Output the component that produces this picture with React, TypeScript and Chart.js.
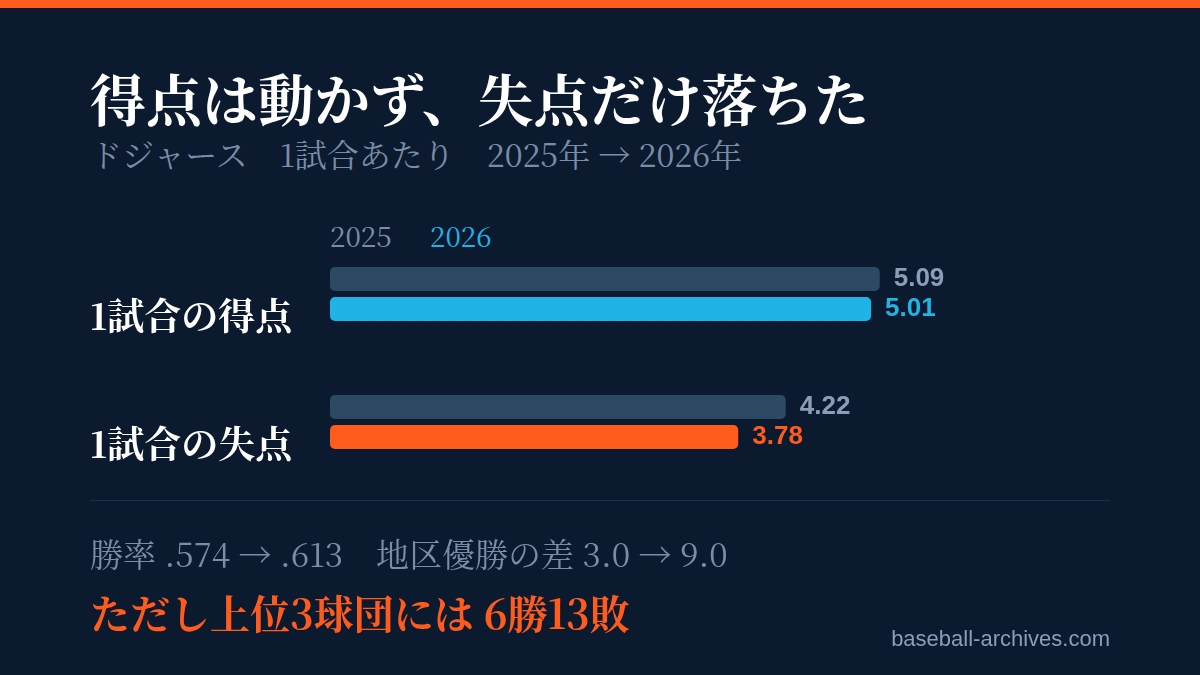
import React, { useEffect, useRef } from "react";
import { Chart, registerables } from "chart.js";

Chart.register(...registerables);

const categories = ["1試合の得点", "1試合の失点"];
const seriesNames = ["2025", "2026"];
const values2025 = [5.09, 4.22];
const values2026 = [5.01, 3.78];
const colors2025 = ["#2c4a63", "#2c4a63"];
const colors2026 = ["#1fb4e5", "#ff5b1c"];
const labelColors2025 = ["#8d9db8", "#8d9db8"];
const labelColors2026 = ["#1fb4e5", "#ff5b1c"];

const BG = "#0b1a2f";
const ORANGE = "#ff5b1c";
const MUTED = "#7b8ca6";
const SERIF = "'Noto Serif CJK JP', 'Noto Sans CJK JP', serif";

// 棒の右側に値を描く
const valueLabels = {
  id: "valueLabels",
  afterDatasetsDraw(chart: Chart) {
    const ctx = chart.ctx;
    ctx.save();
    ctx.font = "bold 26px 'Liberation Sans', Arial, sans-serif";
    ctx.textBaseline = "middle";
    ctx.textAlign = "left";
    chart.data.datasets.forEach((ds: any, di: number) => {
      const meta = chart.getDatasetMeta(di);
      meta.data.forEach((bar: any, i: number) => {
        ctx.fillStyle = ds.labelColors[i];
        ctx.fillText((ds.data[i] as number).toFixed(2), bar.x + 14, bar.y);
      });
    });
    ctx.restore();
  },
};

const RunsChart: React.FC = () => {
  const chartRef = useRef<HTMLCanvasElement>(null);
  const chartInstance = useRef<Chart | null>(null);

  useEffect(() => {
    const ctx = chartRef.current?.getContext("2d");
    if (!ctx) return;
    if (chartInstance.current) chartInstance.current.destroy();

    chartInstance.current = new Chart(ctx, {
      type: "bar",
      data: {
        labels: categories,
        datasets: [
          {
            label: seriesNames[0],
            data: values2025,
            backgroundColor: colors2025,
            labelColors: labelColors2025,
            borderRadius: 5,
            borderSkipped: false,
            categoryPercentage: 0.46875,
            barPercentage: 0.8,
          } as any,
          {
            label: seriesNames[1],
            data: values2026,
            backgroundColor: colors2026,
            labelColors: labelColors2026,
            borderRadius: 5,
            borderSkipped: false,
            categoryPercentage: 0.46875,
            barPercentage: 0.8,
          } as any,
        ],
      },
      options: {
        indexAxis: "y",
        responsive: false,
        animation: false,
        layout: { padding: { left: 90, right: 222, top: 230, bottom: 189 } },
        plugins: {
          legend: { display: false },
          tooltip: { enabled: false },
        },
        scales: {
          x: { display: false, min: 0, max: 6 },
          y: {
            grid: { display: false },
            border: { display: false },
            afterFit: (scale: any) => {
              scale.width = 240;
            },
            ticks: {
              crossAlign: "far",
              labelOffset: 22,
              color: "#ffffff",
              font: { family: SERIF, size: 37, weight: "bold" },
            },
          },
        },
      },
      plugins: [valueLabels],
    });

    return () => {
      if (chartInstance.current) {
        chartInstance.current.destroy();
        chartInstance.current = null;
      }
    };
  }, []);

  return (
    <canvas
      ref={chartRef}
      width={1200}
      height={675}
      style={{ position: "absolute", left: 0, top: 0, width: 1200, height: 675 }}
    />
  );
};

const text = (
  top: number,
  size: number,
  color: string,
  extra: React.CSSProperties = {}
): React.CSSProperties => ({
  position: "absolute",
  left: 90,
  top,
  fontSize: size,
  lineHeight: 1,
  color,
  fontFamily: SERIF,
  whiteSpace: "pre",
  margin: 0,
  ...extra,
});

export default function App() {
  return (
    <div
      style={{
        position: "fixed",
        left: 0,
        top: 0,
        width: 1200,
        height: 675,
        background: BG,
        overflow: "hidden",
      }}
    >
      <div style={{ position: "absolute", left: 0, top: 0, width: 1200, height: 8, background: ORANGE }} />
      <div style={text(69, 56, "#ffffff", { fontWeight: 700 })}>得点は動かず、失点だけ落ちた</div>
      <div style={text(137, 32, MUTED)}>ドジャース　1試合あたり　2025年 → 2026年</div>
      <div style={text(221, 28, MUTED, { left: 330 })}>{seriesNames[0]}</div>
      <div style={text(221, 28, colors2026[0], { left: 430 })}>{seriesNames[1]}</div>
      <RunsChart />
      <div style={{ position: "absolute", left: 90, top: 500, width: 1020, height: 1, background: "#1f2f47" }} />
      <div style={text(536, 33, MUTED)}>勝率 .574 → .613　地区優勝の差 3.0 → 9.0</div>
      <div style={text(592, 40, ORANGE, { fontWeight: 700 })}>ただし上位3球団には 6勝13敗</div>
      <div
        style={{
          position: "absolute",
          right: 90,
          top: 628,
          fontSize: 22,
          lineHeight: 1,
          color: "#8d9db8",
          fontFamily: "'Liberation Sans', Arial, sans-serif",
        }}
      >
        baseball-archives.com
      </div>
    </div>
  );
}
